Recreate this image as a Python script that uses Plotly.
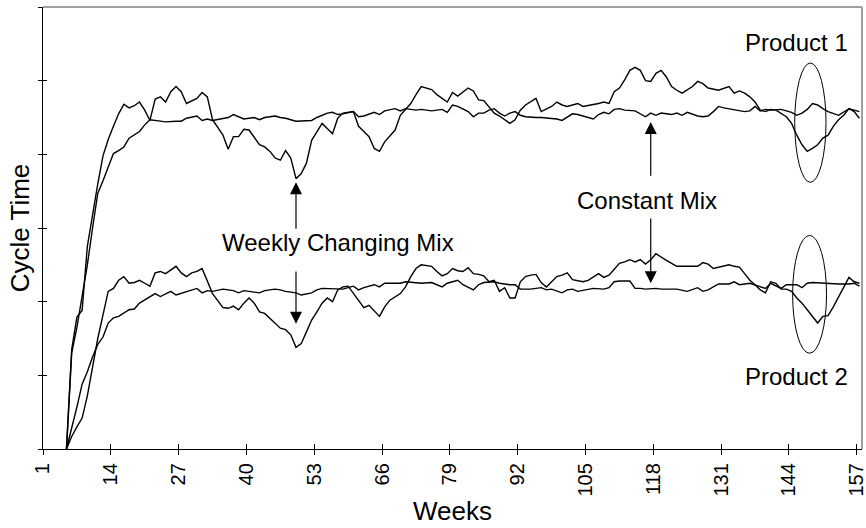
import plotly.graph_objects as go

# ---------------- data ----------------
tick_weeks = [1, 14, 27, 40, 53, 66, 79, 92, 105, 118, 131, 144, 157]

p1_weekly_weeks = [5, 6, 7, 8, 9, 10, 11, 12, 13, 14, 15, 16, 17, 18, 19, 20, 21, 22, 23, 24, 25, 26, 27, 28,
                   30, 31, 32, 33, 35, 36, 37, 38, 39, 40, 42, 43, 44, 45, 46, 47, 48, 49, 50, 51, 52, 54, 55,
                   56, 57, 58, 60, 61, 62, 63, 64, 65, 66, 68, 69, 71, 72, 73, 75, 76, 78, 79, 80, 82, 83, 84,
                   85, 86, 87, 88, 89, 90, 91, 92, 93, 94, 95, 96, 98, 99, 100, 101, 103, 104, 105, 107, 108,
                   109, 110, 111, 112, 113, 114, 115, 116, 117, 118, 119, 120, 121, 122, 123, 125, 126, 127,
                   128, 130, 131, 132, 133, 134, 135, 136, 137, 138, 139, 140, 141, 142, 143, 144, 145, 146,
                   147, 148, 149, 150, 151, 152, 153, 154, 155, 156, 157]
p1_weekly = [0, 1.35, 1.79, 1.88, 2.75, 3.2, 3.6, 3.98, 4.2, 4.38, 4.55, 4.68, 4.63, 4.66, 4.71, 4.60, 4.46,
             4.75, 4.78, 4.71, 4.85, 4.92, 4.85, 4.69, 4.76, 4.84, 4.78, 4.47, 4.26, 4.07, 4.24, 4.24, 4.34,
             4.33, 4.13, 4.10, 4.04, 3.95, 3.92, 4.05, 3.95, 3.67, 3.74, 3.88, 4.19, 4.42, 4.35, 4.28, 4.49,
             4.56, 4.58, 4.38, 4.31, 4.24, 4.08, 4.04, 4.17, 4.33, 4.53, 4.69, 4.81, 4.92, 4.88, 4.81, 4.71,
             4.84, 4.79, 4.90, 4.86, 4.74, 4.73, 4.65, 4.56, 4.52, 4.47, 4.42, 4.47, 4.60, 4.67, 4.71, 4.76,
             4.58, 4.65, 4.71, 4.67, 4.65, 4.69, 4.65, 4.66, 4.69, 4.71, 4.69, 4.85, 4.90, 5.01, 5.14, 5.18,
             5.14, 5.00, 4.99, 5.10, 5.14, 5.05, 4.92, 4.87, 4.83, 4.92, 4.99, 4.96, 4.90, 4.87, 4.90, 4.92,
             4.83, 4.86, 4.83, 4.78, 4.71, 4.60, 4.58, 4.61, 4.60, 4.55, 4.51, 4.42, 4.26, 4.13, 4.04, 4.08,
             4.13, 4.22, 4.26, 4.38, 4.47, 4.53, 4.62, 4.58, 4.49]

p1_const_weeks = [5, 6, 7, 8, 9, 10, 11, 12, 13, 14, 15, 16, 17, 19, 20, 21, 23, 24, 26, 27, 28, 30, 31, 32, 33,
                  35, 36, 37, 38, 39, 41, 42, 43, 45, 46, 47, 49, 50, 52, 53, 55, 56, 57, 58, 60, 61, 62, 64,
                  65, 66, 68, 69, 70, 72, 73, 75, 77, 78, 79, 80, 81, 82, 83, 84, 85, 86, 87, 88, 89, 90, 91,
                  92, 93, 94, 95, 96, 98, 99, 100, 101, 102, 103, 105, 106, 107, 108, 109, 110, 111, 112, 114,
                  115, 116, 117, 118, 119, 121, 122, 123, 124, 126, 127, 128, 129, 130, 131, 132, 133, 135,
                  136, 137, 138, 139, 140, 141, 142, 144, 145, 146, 147, 148, 149, 150, 151, 153, 154, 155,
                  156, 157]
p1_const = [0, 1.3, 1.65, 2.05, 2.5, 3.0, 3.47, 3.64, 3.83, 4.01, 4.05, 4.10, 4.22, 4.31, 4.40, 4.47, 4.45,
            4.44, 4.45, 4.45, 4.49, 4.52, 4.46, 4.48, 4.46, 4.49, 4.50, 4.54, 4.51, 4.48, 4.50, 4.47, 4.50,
            4.52, 4.50, 4.49, 4.45, 4.45, 4.46, 4.50, 4.56, 4.57, 4.54, 4.55, 4.58, 4.51, 4.52, 4.57, 4.54,
            4.59, 4.62, 4.59, 4.62, 4.60, 4.61, 4.59, 4.61, 4.57, 4.67, 4.65, 4.62, 4.58, 4.51, 4.56, 4.56,
            4.60, 4.62, 4.56, 4.52, 4.56, 4.58, 4.53, 4.51, 4.50, 4.50, 4.50, 4.49, 4.48, 4.46, 4.50, 4.55,
            4.54, 4.50, 4.48, 4.54, 4.57, 4.55, 4.61, 4.62, 4.60, 4.59, 4.55, 4.51, 4.56, 4.53, 4.56, 4.54,
            4.56, 4.53, 4.57, 4.52, 4.51, 4.52, 4.58, 4.65, 4.63, 4.62, 4.60, 4.58, 4.59, 4.65, 4.59, 4.61,
            4.60, 4.60, 4.61, 4.57, 4.53, 4.56, 4.61, 4.69, 4.67, 4.62, 4.58, 4.53, 4.57, 4.62, 4.60, 4.58]

p2_weekly_weeks = [5, 6, 7, 8, 9, 10, 11, 12, 13, 14, 15, 16, 17, 18, 19, 20, 21, 22, 23, 24, 25, 26, 27, 28, 29,
                   30, 31, 32, 33, 35, 36, 37, 38, 39, 40, 41, 42, 43, 44, 45, 46, 47, 48, 49, 50, 51, 52, 53,
                   54, 55, 56, 57, 58, 59, 60, 61, 62, 63, 64, 65, 66, 67, 69, 70, 71, 72, 73, 75, 76, 77, 78,
                   79, 80, 81, 82, 83, 84, 85, 86, 87, 88, 89, 90, 91, 92, 93, 94, 95, 96, 97, 98, 99, 100,
                   101, 102, 103, 104, 105, 107, 108, 109, 110, 111, 112, 113, 114, 115, 116, 117, 118, 119,
                   120, 121, 122, 123, 124, 126, 127, 128, 129, 130, 131, 132, 133, 134, 135, 136, 137, 138,
                   139, 140, 141, 142, 143, 144, 145, 146, 147, 148, 149, 150, 151, 152, 153, 154, 155, 156, 157]
p2_weekly = [0, 0.17, 0.30, 0.42, 0.72, 1.1, 1.5, 1.82, 2.14, 2.18, 2.29, 2.34, 2.25, 2.26, 2.29, 2.25, 2.21,
             2.39, 2.41, 2.38, 2.43, 2.48, 2.39, 2.34, 2.39, 2.41, 2.45, 2.29, 2.11, 1.92, 1.91, 1.94, 1.89,
             1.98, 2.05, 1.98, 1.86, 1.84, 1.77, 1.71, 1.64, 1.62, 1.55, 1.38, 1.43, 1.59, 1.75, 1.86, 1.98,
             2.05, 2.00, 2.16, 2.20, 2.21, 2.11, 2.02, 1.92, 1.95, 1.88, 1.80, 1.93, 2.02, 2.11, 2.20, 2.34,
             2.45, 2.50, 2.48, 2.41, 2.35, 2.38, 2.45, 2.42, 2.41, 2.46, 2.38, 2.37, 2.35, 2.27, 2.29, 2.14,
             2.19, 2.05, 2.05, 2.27, 2.34, 2.36, 2.37, 2.26, 2.20, 2.27, 2.34, 2.36, 2.39, 2.30, 2.29, 2.27,
             2.29, 2.38, 2.33, 2.36, 2.44, 2.52, 2.54, 2.57, 2.54, 2.57, 2.51, 2.57, 2.65, 2.60, 2.56, 2.52,
             2.48, 2.48, 2.48, 2.48, 2.53, 2.51, 2.45, 2.47, 2.48, 2.50, 2.48, 2.47, 2.38, 2.29, 2.23, 2.16,
             2.12, 2.27, 2.25, 2.17, 2.17, 2.14, 2.05, 1.98, 1.89, 1.80, 1.71, 1.80, 1.81, 1.93, 2.07, 2.20,
             2.33, 2.27, 2.25]

p2_const_weeks = [5, 6, 7, 8, 9, 10, 11, 12, 13, 14, 15, 17, 18, 19, 20, 21, 22, 23, 25, 26, 28, 30, 31, 32, 33,
                  35, 36, 37, 38, 39, 41, 42, 43, 45, 46, 47, 49, 50, 52, 53, 54, 55, 57, 58, 60, 61, 62, 64,
                  65, 66, 68, 69, 70, 72, 73, 75, 77, 78, 80, 81, 83, 84, 85, 87, 88, 90, 91, 92, 93, 94, 96,
                  97, 98, 100, 101, 102, 103, 105, 106, 108, 109, 110, 111, 113, 114, 115, 116, 118, 119, 121,
                  122, 124, 125, 126, 127, 128, 130, 132, 133, 134, 136, 137, 139, 140, 142, 143, 145, 146,
                  147, 148, 150, 152, 153, 155, 156, 157]
p2_const = [0, 0.27, 0.57, 0.88, 1.05, 1.25, 1.42, 1.52, 1.71, 1.78, 1.80, 1.89, 1.90, 1.98, 2.02, 2.07, 2.11,
            2.07, 2.14, 2.09, 2.14, 2.18, 2.12, 2.15, 2.14, 2.17, 2.16, 2.15, 2.12, 2.15, 2.13, 2.12, 2.15,
            2.17, 2.16, 2.14, 2.12, 2.09, 2.12, 2.16, 2.18, 2.18, 2.18, 2.17, 2.21, 2.16, 2.19, 2.23, 2.20,
            2.25, 2.25, 2.25, 2.27, 2.26, 2.25, 2.26, 2.20, 2.25, 2.29, 2.23, 2.16, 2.23, 2.26, 2.27, 2.25,
            2.23, 2.23, 2.17, 2.17, 2.17, 2.19, 2.16, 2.17, 2.12, 2.16, 2.17, 2.14, 2.16, 2.18, 2.17, 2.19,
            2.27, 2.28, 2.28, 2.18, 2.18, 2.17, 2.18, 2.17, 2.17, 2.17, 2.14, 2.17, 2.19, 2.14, 2.16, 2.24,
            2.24, 2.27, 2.23, 2.25, 2.23, 2.18, 2.25, 2.18, 2.23, 2.23, 2.19, 2.25, 2.26, 2.25, 2.25, 2.24,
            2.24, 2.25, 2.21]

# ---------------- figure ----------------
FONT = "Liberation Sans, Arial, Helvetica, sans-serif"
line_style = dict(color="black", width=1.4)

fig = go.Figure()
for name, xs, ys in [("Product 1 - Weekly Changing Mix", p1_weekly_weeks, p1_weekly),
                     ("Product 1 - Constant Mix", p1_const_weeks, p1_const),
                     ("Product 2 - Weekly Changing Mix", p2_weekly_weeks, p2_weekly),
                     ("Product 2 - Constant Mix", p2_const_weeks, p2_const)]:
    fig.add_trace(go.Scatter(x=xs, y=ys, mode="lines", name=name, line=line_style,
                             showlegend=False, hoverinfo="x+y+name"))

# helper trace for the overlaid (inside-tick) axes
fig.add_trace(go.Scatter(x=[None], y=[None], xaxis="x2", yaxis="y2", showlegend=False, hoverinfo="skip"))

tickvals = [w - 0.5 for w in tick_weeks]
ticktext = [str(w) for w in tick_weeks]
xrange = [0.5, 157.5]
yrange = [0, 6]

fig.update_layout(
    width=866, height=528,
    margin=dict(l=43, r=4, t=7, b=79, pad=0, autoexpand=False),
    paper_bgcolor="white", plot_bgcolor="white",
    font=dict(family=FONT, color="black"),
    xaxis=dict(range=xrange, tickmode="array", tickvals=tickvals, ticktext=ticktext,
               tickangle=-90, ticks="outside", ticklen=5, tickwidth=1, tickcolor="black",
               ticklabeloverflow="allow", automargin=False,
               showline=True, linecolor="black", linewidth=1.3, showgrid=False, zeroline=False,
               tickfont=dict(size=20, family=FONT, color="black"),
               title=dict(text="Weeks", font=dict(size=26, family=FONT, color="black"), standoff=6)),
    xaxis2=dict(range=xrange, overlaying="x", anchor="y", side="bottom", tickmode="array",
                tickvals=tickvals, ticks="inside", ticklen=5, tickwidth=1, tickcolor="black",
                automargin=False,
                showticklabels=False, showline=False, showgrid=False, zeroline=False),
    yaxis=dict(range=yrange, tickmode="linear", tick0=0, dtick=1, ticks="outside", ticklen=4,
               tickwidth=1, tickcolor="black", showticklabels=False, showline=True, automargin=False,
               linecolor="black", linewidth=1.3, showgrid=False, zeroline=False,
               title=dict(text="Cycle Time", font=dict(size=26, family=FONT, color="black"), standoff=0)),
    yaxis2=dict(range=yrange, overlaying="y", anchor="x", side="left", tickmode="linear", tick0=0,
                dtick=1, ticks="inside", ticklen=4, tickwidth=1, tickcolor="black", automargin=False,
                showticklabels=False, showline=False, showgrid=False, zeroline=False),
)

# grey frame on top and right
fig.add_shape(type="line", xref="paper", yref="paper", x0=0, x1=1, y0=1, y1=1,
              line=dict(color="#a0a0a0", width=2), layer="below")
fig.add_shape(type="line", xref="paper", yref="paper", x0=1, x1=1, y0=0, y1=1,
              line=dict(color="#a0a0a0", width=2), layer="below")

# ellipses around the last weeks
fig.add_shape(type="circle", xref="x", yref="y", x0=144.6, x1=150.6, y0=3.62, y1=5.24,
              line=dict(color="black", width=1))
fig.add_shape(type="circle", xref="x", yref="y", x0=144.2, x1=150.7, y0=1.30, y1=2.90,
              line=dict(color="black", width=1))

txt_font = dict(size=24, family=FONT, color="black")
for text, x, y in [("Weekly Changing Mix", 57.0, 2.80), ("Constant Mix", 116.2, 3.37),
                   ("Product 1", 145.0, 5.52), ("Product 2", 145.0, 0.98)]:
    fig.add_annotation(x=x, y=y, xref="x", yref="y", text=text, showarrow=False, font=txt_font)

# arrows: (x, tip y, tail y)
for x, ytip, ytail in [(49, 3.62, 2.97), (49, 1.70, 2.43), (117, 4.44, 3.69), (117, 2.25, 3.15)]:
    fig.add_annotation(x=x, y=ytip, ax=x, ay=ytail, xref="x", yref="y", axref="x", ayref="y",
                       text="", showarrow=True, arrowhead=2, arrowsize=2, arrowwidth=1.2,
                       arrowcolor="black")

fig.write_html("out.html")
